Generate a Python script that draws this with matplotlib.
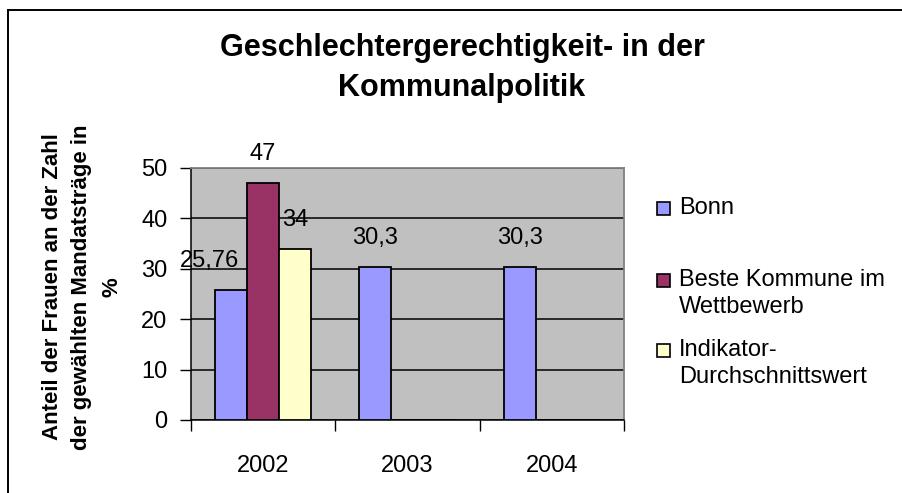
import matplotlib.pyplot as plt
from matplotlib.patches import Rectangle
from matplotlib.lines import Line2D
import numpy as np

plt.rcParams['font.family'] = ['Liberation Sans', 'DejaVu Sans']

years = ['2002', '2003', '2004']
series = ['Bonn', 'Beste Kommune im\nWettbewerb', 'Indikator-\nDurchschnittswert']
bonn = [25.76, 30.3, 30.3]
beste = [47, 0, 0]
indikator = [34, 0, 0]
labels_bonn = ['25,76', '30,3', '30,3']
labels_beste = ['47', '', '']
labels_ind = ['34', '', '']
colors = ['#9999FF', '#993366', '#FFFFCC']

fig = plt.figure(figsize=(9.02, 4.93), dpi=100)
W, H = 902, 493

# outer frame
fig.add_artist(Line2D([8 / W, 8 / W], [0, 1 - 10 / H], color='black', lw=1.4))
fig.add_artist(Line2D([8 / W, 1], [1 - 10 / H, 1 - 10 / H], color='black', lw=1.4))

ax = fig.add_axes([191 / W, 1 - 420 / H, 433 / W, 252 / H])
ax.set_facecolor('#C0C0C0')

x = np.arange(len(years))
bw = 1 / 4.5
data = [bonn, beste, indikator]
labs = [labels_bonn, labels_beste, labels_ind]
for i, (vals, c, lb) in enumerate(zip(data, colors, labs)):
    pos = x + (i - 1) * bw
    ax.bar(pos, vals, width=bw, color=c, edgecolor='black', lw=1.3, zorder=3)
    for p, v, t in zip(pos, vals, lb):
        if not t:
            continue
        dx = -22 if (i == 0 and p < 0.5) else 0
        ax.annotate(t, (p, v), xytext=(dx, 29), textcoords='offset pixels',
                    ha='center', va='center', fontsize=17, zorder=4)

ax.set_xlim(-0.5, 2.5)
ax.set_ylim(0, 50)
ax.set_yticks([0, 10, 20, 30, 40, 50])
ax.yaxis.grid(True, color='black', lw=1.1, zorder=1)
ax.set_axisbelow(True)
ax.set_xticks([-0.5, 0.5, 1.5, 2.5])
ax.set_xticklabels([])
ax.set_xticks(x, minor=True)
ax.set_xticklabels(years, minor=True, fontsize=17)
ax.tick_params(axis='x', which='major', length=8, width=1, direction='out')
ax.tick_params(axis='x', which='minor', length=0, pad=25)
ax.tick_params(axis='y', length=8, width=1, direction='out', labelsize=17, pad=9)
for s in ['top', 'right']:
    ax.spines[s].set_color('#808080')
    ax.spines[s].set_linewidth(1.3)
for s in ['left', 'bottom']:
    ax.spines[s].set_color('black')
    ax.spines[s].set_linewidth(1.1)

fig.text(82 / W, 1 - 287 / H, 'Anteil der Frauen an der Zahl\nder gewählten Mandatsträge in\n%',
         rotation=90, ha='center', va='center', fontsize=16, fontweight='bold',
         linespacing=1.55, multialignment='center')

fig.text(462 / W, 1 - 68 / H, 'Geschlechtergerechtigkeit- in der\nKommunalpolitik',
         ha='center', va='center', fontsize=22, fontweight='bold', linespacing=1.4)

# legend
sq = 13
legend_y = [208, 280, 350]
for name, c, ly in zip(series, colors, legend_y):
    fig.add_artist(Rectangle(((663 - sq / 2) / W, 1 - (ly + sq / 2) / H), sq / W, sq / H,
                             facecolor=c, edgecolor='black', lw=1.2))
    fig.text(679 / W, 1 - (ly - 11) / H, name, ha='left', va='top', fontsize=17,
             linespacing=1.3)

fig.savefig('out.png', dpi=100)
